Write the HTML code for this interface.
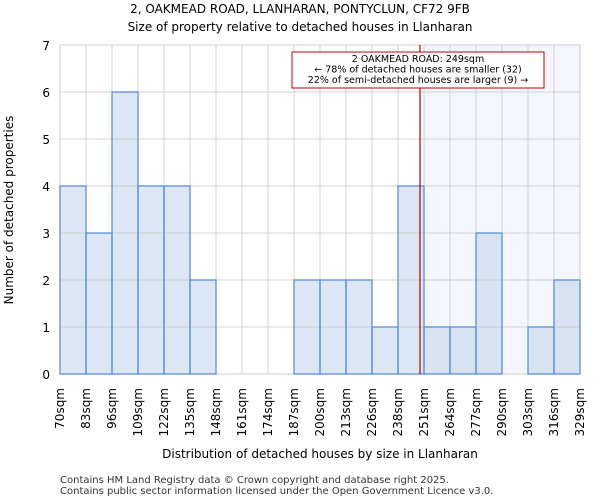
<!DOCTYPE html>
<html><head><meta charset="utf-8"><style>
body{margin:0;background:#fff;font-family:"DejaVu Sans","Liberation Sans",sans-serif;}
</style></head><body>
<svg id="chart" width="600" height="500" xmlns="http://www.w3.org/2000/svg" font-family="DejaVu Sans, Liberation Sans, sans-serif">
<text x="300" y="13" text-anchor="middle" font-size="12">2, OAKMEAD ROAD, LLANHARAN, PONTYCLUN, CF72 9FB</text>
<text x="300" y="31" text-anchor="middle" font-size="12">Size of property relative to detached houses in Llanharan</text>
<g id="plot"></g>
<text transform="translate(13,210) rotate(-90)" text-anchor="middle" font-size="12">Number of detached properties</text>
<text x="320" y="458" text-anchor="middle" font-size="12">Distribution of detached houses by size in Llanharan</text>
<text x="60" y="483" font-size="10" fill="#333">Contains HM Land Registry data © Crown copyright and database right 2025.</text>
<text x="60" y="494" font-size="10" fill="#333">Contains public sector information licensed under the Open Government Licence v3.0.</text>
</svg>
<script>
const binEdges=[70,83,96,109,122,135,148,161,174,187,200,213,226,238,251,264,277,290,303,316,329];
const counts=[4,3,6,4,4,2,0,0,0,2,2,2,1,4,1,1,3,0,1,2];
const yTicks=[0,1,2,3,4,5,6,7];
const propertySize=249;
const highlightFromBin=14;
const annotationLines=["2 OAKMEAD ROAD: 249sqm","← 78% of detached houses are smaller (32)","22% of semi-detached houses are larger (9) →"];

const NS="http://www.w3.org/2000/svg";
const L=60,R=580,T=45,B=374;
const bw=(R-L)/counts.length;
const xIdx=i=>L+i*bw;
const xVal=v=>{for(let i=0;i<binEdges.length-1;i++){if(v<=binEdges[i+1])return xIdx(i)+(v-binEdges[i])/(binEdges[i+1]-binEdges[i])*bw;}return R;};
const y=v=>B-v*(B-T)/7;
const g=document.getElementById('plot');
function mk(tag,a){const e=document.createElementNS(NS,tag);for(const k in a)e.setAttribute(k,a[k]);g.appendChild(e);return e;}
let e;
e=mk('rect',{x:L,y:T,width:R-L,height:B-T,fill:'#fff'});


e=mk('rect',{x:xIdx(highlightFromBin),y:T,width:R-xIdx(highlightFromBin),height:B-T,fill:'#f3f6fd'});


counts.forEach((c,i)=>{if(c<=0)return;
 const b=mk('rect',{x:xIdx(i),y:y(c),width:bw,height:B-y(c),fill:i>=highlightFromBin?'#d7e2f3':'#dde6f4'});
 
 
});
yTicks.forEach(t=>{
 const l=mk('line',{x1:L,x2:R,y1:y(t),y2:y(t),stroke:'#c8c8c8','stroke-width':1,'stroke-opacity':0.8});
 
 
 const tx=mk('text',{x:L-10,y:y(t)+5,'text-anchor':'end','font-size':12});
 tx.textContent=t;
 
 
});
binEdges.forEach((v,i)=>{
 const l=mk('line',{x1:xIdx(i),x2:xIdx(i),y1:T,y2:B,stroke:'#c8c8c8','stroke-width':1,'stroke-opacity':0.8});
 
 
 const tx=mk('text',{'text-anchor':'end','font-size':12,transform:`translate(${xIdx(i)+4},${B+14}) rotate(-90)`});
 tx.textContent=v+'sqm';
 
 
});
e=mk('rect',{x:L,y:T,width:R-L,height:B-T,fill:'none',stroke:'#ccc'});


counts.forEach((c,i)=>{if(c<=0)return;
 const b=mk('rect',{x:xIdx(i),y:y(c),width:bw,height:B-y(c),fill:'none',stroke:'#5b8fd9','stroke-width':1.3});
 
 
});
const px=xVal(propertySize);
e=mk('line',{x1:px,x2:px,y1:T,y2:B,stroke:'#b00000','stroke-width':1.2});


e=mk('rect',{x:292,y:52,width:252,height:36,fill:'#fff',stroke:'#c00000','stroke-width':1});


annotationLines.forEach((s,i)=>{
 const tx=mk('text',{x:418,y:62+i*10.5,'text-anchor':'middle','font-size':9.5});
 tx.textContent=s;
 
 
});
</script>
</body></html>
